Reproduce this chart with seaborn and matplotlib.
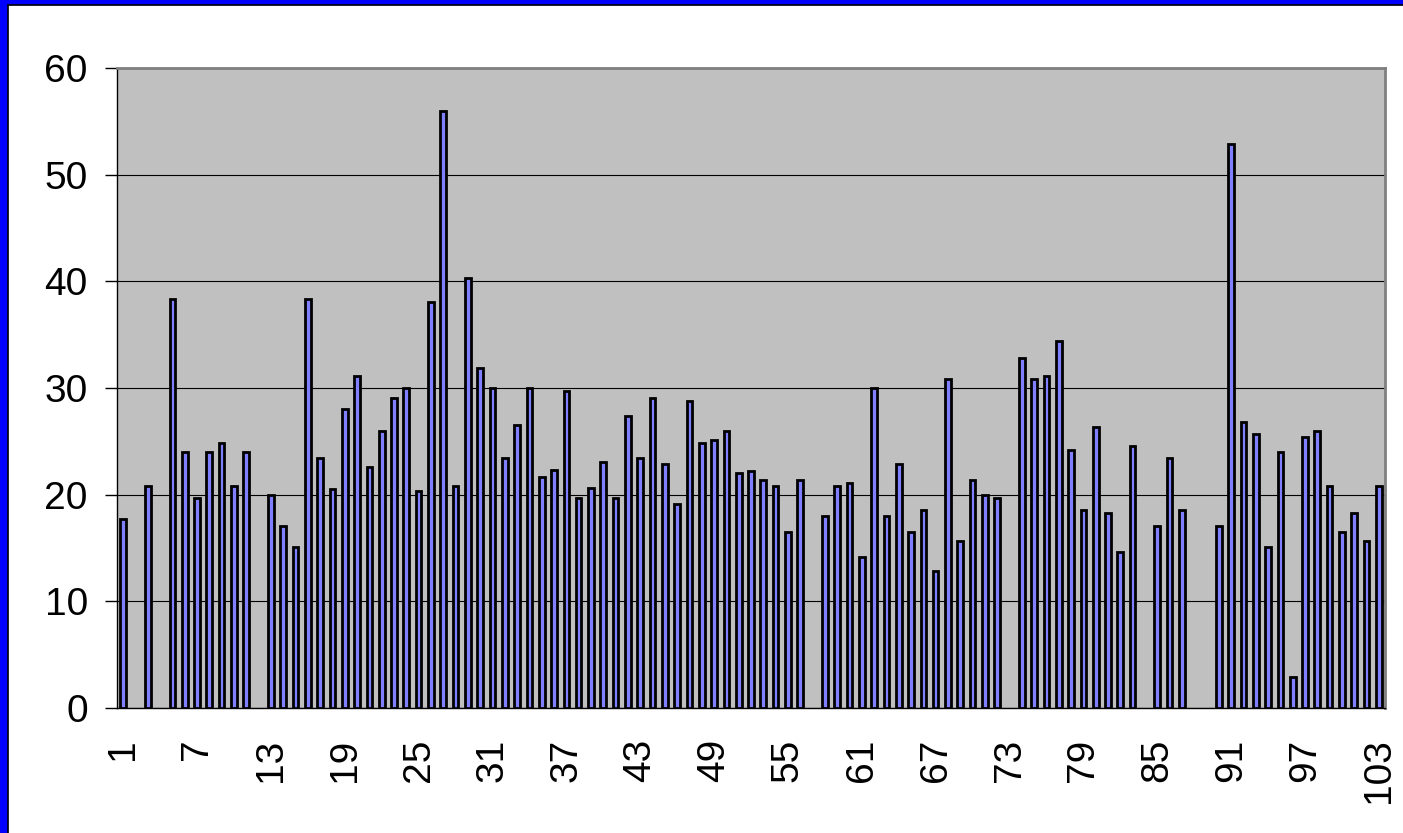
import numpy as np
import pandas as pd
import matplotlib
matplotlib.use("Agg")
import matplotlib.pyplot as plt
from matplotlib.patches import Rectangle
from matplotlib.lines import Line2D
import seaborn as sns

# Data (None = no bar for that category)
categories = [str(i) for i in range(1, 104)]
values = [
    17.7, None, 20.8, None, 38.3, 24.0, 19.7, 24.0, 24.8, 20.8,
    24.0, None, 20.0, 17.1, 15.1, 38.3, 23.4, 20.5, 28.0, 31.1,
    22.6, 26.0, 29.1, 30.0, 20.3, 38.1, 56.0, 20.8, 40.3, 31.9,
    30.0, 23.4, 26.5, 30.0, 21.7, 22.3, 29.7, 19.7, 20.6, 23.1,
    19.7, 27.4, 23.4, 29.1, 22.9, 19.1, 28.8, 24.8, 25.1, 26.0,
    22.0, 22.2, 21.4, 20.8, 16.5, 21.4, None, 18.0, 20.8, 21.1,
    14.2, 30.0, 18.0, 22.9, 16.5, 18.6, 12.8, 30.8, 15.7, 21.4,
    20.0, 19.7, None, 32.8, 30.8, 31.1, 34.4, 24.2, 18.6, 26.3,
    18.3, 14.6, 24.6, None, 17.1, 23.4, 18.6, None, None, 17.1,
    52.9, 26.8, 25.7, 15.1, 24.0, 2.9, 25.4, 26.0, 20.8, 16.5,
    18.3, 15.7, 20.8,
]
y_ticks = [0, 10, 20, 30, 40, 50, 60]
label_every = 6

df = pd.DataFrame({"cat": categories, "val": values}).dropna()

sns.set_style("white")
plt.rcParams["font.family"] = ["Liberation Sans", "DejaVu Sans"]
plt.rcParams["text.color"] = "black"
plt.rcParams["xtick.color"] = "black"
plt.rcParams["ytick.color"] = "black"

fig = plt.figure(figsize=(14.03, 8.33), dpi=100)
fig.patch.set_facecolor("white")
ax = fig.add_axes([117 / 1403, 1 - 708 / 833, (1385 - 117) / 1403, (708 - 68) / 833])
ax.set_facecolor("#C0C0C0")

sns.barplot(data=df, x="cat", y="val", order=categories, color="#8080FF",
            saturation=1, width=0.46, edgecolor="black", linewidth=2.0,
            errorbar=None, ax=ax, zorder=3)

ax.set_xlim(-0.5, len(categories) - 0.5)
ax.set_ylim(0, 60)
ax.set_yticks(y_ticks)
ax.yaxis.grid(True, color="black", linewidth=0.8)
ax.set_axisbelow(True)

# labels on every 6th category, tick marks on category boundaries
pos = list(range(0, len(categories), label_every))
ax.set_xticks(pos)
ax.set_xticklabels([categories[p] for p in pos], rotation=90)
ax.set_xticks(np.arange(-0.5, len(categories), 1), minor=True)
ax.tick_params(axis="x", which="major", length=0, pad=22, labelsize=28,
               labelcolor="black")
ax.tick_params(axis="x", which="minor", length=9, width=1, color="black", direction="out")
ax.tick_params(axis="y", length=9, width=1, color="black", pad=12, labelsize=28,
               labelcolor="black", left=True, direction="out")
ax.set_xlabel("")
ax.set_ylabel("")

for side in ["left", "bottom"]:
    ax.spines[side].set_color("black")
    ax.spines[side].set_linewidth(1)
for side in ["top", "right"]:
    ax.spines[side].set_color("#808080")
    ax.spines[side].set_linewidth(2)

# blue frame strips (top and left) with thin black edge
fig.patches.append(Rectangle((0, 1 - 4 / 833), 1, 4 / 833, transform=fig.transFigure,
                             color="#0000FF", zorder=0))
fig.patches.append(Rectangle((0, 0), 7 / 1403, 1, transform=fig.transFigure,
                             color="#0000FF", zorder=0))
fig.lines.append(Line2D([7.5 / 1403, 1], [1 - 4.5 / 833, 1 - 4.5 / 833],
                        transform=fig.transFigure, color="black", linewidth=1.2))
fig.lines.append(Line2D([7.5 / 1403, 7.5 / 1403], [0, 1 - 4.5 / 833],
                        transform=fig.transFigure, color="black", linewidth=1.2))

fig.savefig("out.png", dpi=100)
